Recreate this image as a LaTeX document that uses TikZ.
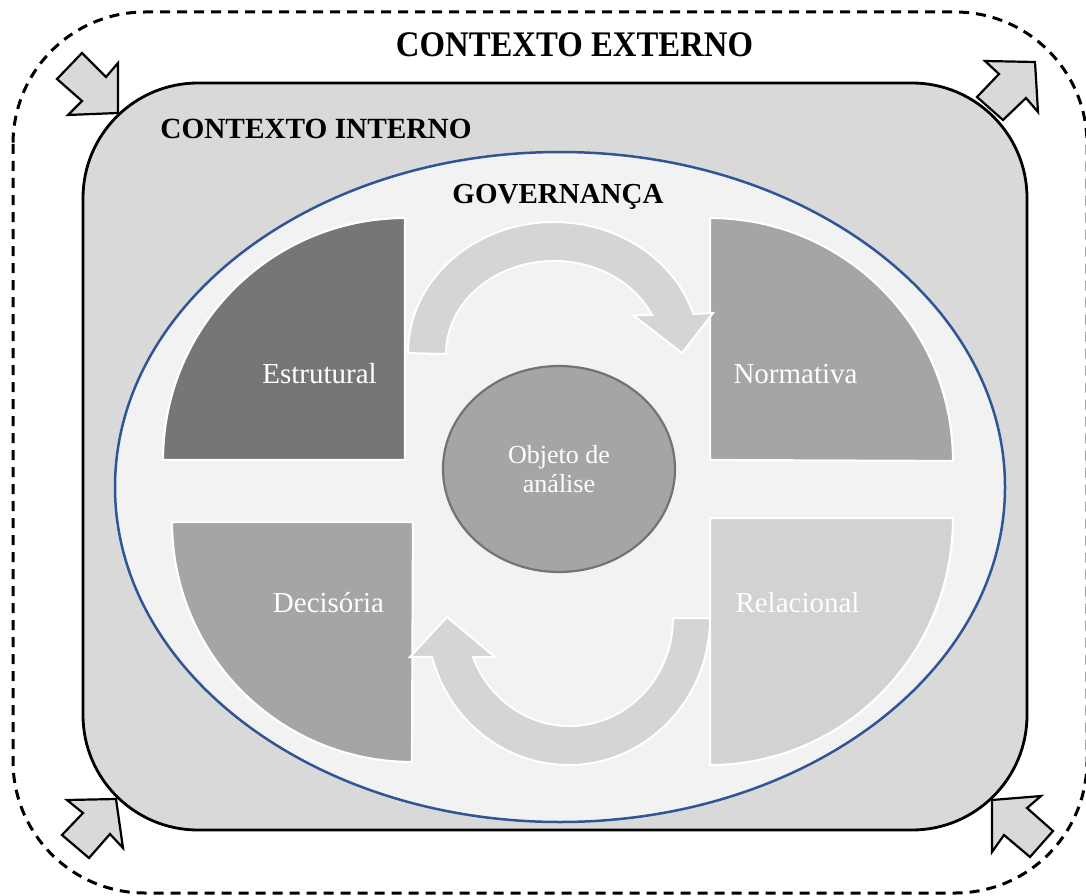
\documentclass[tikz,border=0pt]{standalone}
\usepackage{fontspec}
\setmainfont{Liberation Serif}
\usetikzlibrary{shapes.geometric}
\definecolor{ctxfill}{HTML}{D9D9D9}
\definecolor{govfill}{HTML}{F2F2F2}
\definecolor{govline}{HTML}{2F5597}
\definecolor{qdark}{HTML}{767676}
\definecolor{qmid}{HTML}{A5A5A5}
\definecolor{qlight}{HTML}{D2D2D2}
\definecolor{arrfill}{HTML}{D5D5D5}
\definecolor{objline}{HTML}{737373}
\begin{document}
\begin{tikzpicture}[x=1pt,y=-1pt,
  quarter/.style={line width=2.2pt, draw=white},
  bandarrow/.style={fill=arrfill, draw=white, line width=2pt, line join=miter},
  blockarrow/.style={fill=ctxfill, draw=black, line width=2.2pt, line join=miter},
  titletext/.style={font=\bfseries\fontsize{29.3}{33}\selectfont, anchor=base, inner sep=0pt},
  qlabel/.style={text=white, font=\fontsize{29}{33}\selectfont, anchor=base, inner sep=0pt}]
\useasboundingbox (0,0) rectangle (1086,896);
\fill[white] (0,0) rectangle (1086,896);
% outer dashed context
\draw[dash pattern=on 10pt off 7pt, line width=3pt, rounded corners=132pt] (13,12) rectangle (1087,893);
% inner context
\node[rectangle, rounded corners=115pt, minimum width=944pt, minimum height=747pt, inner sep=0pt,
      fill=ctxfill, draw=black, line width=2.8pt] (interno) at (555,456.5) {};
% governance ellipse
\node[ellipse, minimum width=890pt, minimum height=670pt, inner sep=0pt,
      fill=govfill, draw=govline, line width=2.5pt] (gov) at (560,487) {};
% quarters
\path[quarter, fill=qdark] (163,460) arc[start angle=180, end angle=270, radius=242] -- (405,460) -- cycle;
\path[quarter, fill=qmid] (710,218) arc[start angle=270, end angle=360, radius=243] -- (710,460) -- cycle;
\path[quarter, fill=qmid] (172,522) arc[start angle=180, end angle=90, radius=240] -- (413,522) -- cycle;
\path[quarter, fill=qlight] (953,518) arc[start angle=0, end angle=90, x radius=243, y radius=247] -- (710,518) -- cycle;
% curved arrows
\path[bandarrow] (408,353) arc[start angle=180, end angle=342.68, x radius=146, y radius=131]
  -- (713,313) -- (682,353) -- (633,315) -- (652,315)
  arc[start angle=335.2, end angle=180, x radius=108, y radius=93] -- cycle;
\path[bandarrow] (710,618) arc[start angle=0, end angle=164.62, x radius=141.5, y radius=147]
  -- (410,657) -- (447,617) -- (495,657) -- (473,657)
  arc[start angle=158.83, end angle=0, x radius=103.5, y radius=108] -- cycle;
% center object
\node[ellipse, minimum width=232pt, minimum height=206pt, inner sep=0pt, fill=qmid, draw=objline,
      line width=2.2pt, text=white, align=center, font=\fontsize{26}{29}\selectfont] (obj) at (559,469)
      {Objeto de\\análise};
% corner block arrows
\draw[blockarrow] (82,53) -- (106,77) -- (118,63) -- (118,113) -- (68,115) -- (82,101) -- (57,79) -- cycle;
\draw[blockarrow] (985,61) -- (1035,62) -- (1038,112) -- (1026,98) -- (1003,120) -- (977,97) -- (999,74) -- cycle;
\draw[blockarrow] (67,800) -- (116,799) -- (123,848) -- (110,834) -- (89,858) -- (62,835) -- (83,813) -- cycle;
\draw[blockarrow] (992,800) -- (1041,796) -- (1027,808) -- (1053,831) -- (1030,857) -- (1004,835) -- (992,852) -- cycle;
% titles
\node[titletext, font=\bfseries\fontsize{36}{40}\selectfont] (externo) at (574.5,57) {\scalebox{0.91}[1]{CONTEXTO EXTERNO}};
\node[titletext] (internolbl) at (316,139) {CONTEXTO INTERNO};
\node[titletext, font=\bfseries\fontsize{29}{33}\selectfont] (govlbl) at (558,204) {GOVERNANÇA};
% quarter labels
\node[qlabel] (estrutural) at (319.5,383) {Estrutural};
\node[qlabel] (normativa) at (795.5,383) {Normativa};
\node[qlabel] (decisoria) at (328.5,612) {Decisória};
\node[qlabel] (relacional) at (797.5,612) {Relacional};
\end{tikzpicture}
\end{document}
